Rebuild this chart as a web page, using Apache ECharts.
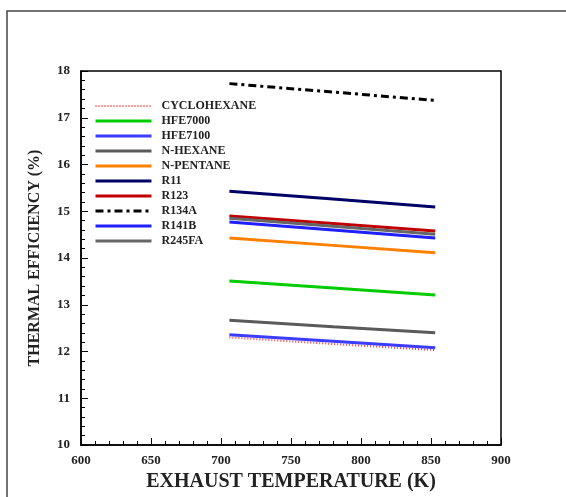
<!DOCTYPE html>
<html>
<head>
<meta charset="utf-8">
<script src="https://cdn.jsdelivr.net/npm/echarts@6/dist/echarts.min.js"></script>
<style>
  html, body { margin: 0; padding: 0; background: #fff; }
  #chart { width: 566px; height: 497px; }
</style>
</head>
<body>
<div id="chart"></div>
<script>
// exhaust temperature (K) sample points
var tempK = [706, 780, 853];

// thermal efficiency (%) per working fluid
var cyclohexane = [12.30, 12.16, 12.03];
var hfe7000 = [13.51, 13.36, 13.21];
var hfe7100 = [12.36, 12.22, 12.08];
var nHexane = [12.67, 12.53, 12.40];
var nPentane = [14.43, 14.27, 14.11];
var r11 = [15.43, 15.26, 15.09];
var r123 = [14.90, 14.74, 14.58];
var r134a = [17.73, 17.55, 17.37];
var r141b = [14.77, 14.60, 14.43];
var r245fa = [14.85, 14.68, 14.51];

var fluidNames = ['CYCLOHEXANE', 'HFE7000', 'HFE7100', 'N-HEXANE', 'N-PENTANE',
    'R11', 'R123', 'R134A', 'R141B', 'R245FA'];
var fluidData = [cyclohexane, hfe7000, hfe7100, nHexane, nPentane,
    r11, r123, r134a, r141b, r245fa];
var fluidColors = ['#ff3b3b', '#00cc00', '#3c3cff', '#5a5a5a', '#ff8000',
    '#000066', '#c00000', '#000000', '#1f1fff', '#666666'];

var serif = '"Liberation Serif", "DejaVu Serif", serif';

var lineFor = function (i) {
    var line = { color: fluidColors[i], width: 3, type: 'solid' };
    if (fluidNames[i] === 'CYCLOHEXANE') {
        line.width = 2;
        line.type = [1, 2];
    }
    if (fluidNames[i] === 'R134A') {
        line.type = [8, 4, 3, 4];
    }
    return line;
};

var series = [];
var legendData = [];
for (var i = 0; i < fluidNames.length; i++) {
    series.push({
        name: fluidNames[i],
        type: 'line',
        symbol: 'none',
        color: fluidColors[i],
        lineStyle: lineFor(i),
        data: tempK.map(function (t, k) { return [t, fluidData[i][k]]; }),
        z: i === 0 ? 1 : 2
    });
    legendData.push({ name: fluidNames[i], lineStyle: lineFor(i) });
}

var myChart = echarts.init(document.getElementById('chart'));
var option = {
    animation: false,
    backgroundColor: '#fff',
    graphic: [{
        type: 'rect',
        shape: { x: 7, y: 11, width: 700, height: 600 },
        style: { fill: 'none', stroke: '#444', lineWidth: 1.5 },
        silent: true
    }],
    grid: {
        left: 81, right: 65, top: 71, bottom: 46,
        show: true, borderColor: '#000', borderWidth: 1.5
    },
    legend: {
        orient: 'vertical',
        left: 89,
        top: 95,
        itemWidth: 56,
        itemHeight: 12,
        itemGap: 3,
        data: legendData,
        // only the line sample, no symbol dot
        itemStyle: { opacity: 0 },
        textStyle: {
            fontFamily: serif, fontWeight: 'bold', fontSize: 12,
            color: '#222', lineHeight: 12, padding: [0, 0, 0, 5]
        }
    },
    xAxis: {
        type: 'value', min: 600, max: 900, interval: 50,
        name: 'EXHAUST TEMPERATURE (K)',
        nameLocation: 'middle', nameGap: 27,
        nameTextStyle: { fontFamily: serif, fontWeight: 'bold', fontSize: 20, color: '#222' },
        axisLine: { lineStyle: { color: '#000', width: 1.5 } },
        axisTick: { inside: true, length: 7, lineStyle: { color: '#000' } },
        minorTick: { show: true, splitNumber: 5, length: 4, lineStyle: { color: '#000' } },
        splitLine: { show: false },
        axisLabel: { margin: 9, fontFamily: serif, fontWeight: 'bold', fontSize: 13, color: '#222' }
    },
    yAxis: {
        type: 'value', min: 10, max: 18, interval: 1,
        name: 'THERMAL EFFICIENCY (%)',
        nameLocation: 'middle', nameGap: 38, nameRotate: 90,
        nameTextStyle: { fontFamily: serif, fontWeight: 'bold', fontSize: 16, color: '#222' },
        axisLine: { lineStyle: { color: '#000', width: 1.5 } },
        axisTick: { inside: true, length: 7, lineStyle: { color: '#000' } },
        minorTick: { show: true, splitNumber: 5, length: 4, lineStyle: { color: '#000' } },
        splitLine: { show: false },
        axisLabel: { margin: 11, fontFamily: serif, fontWeight: 'bold', fontSize: 13, color: '#222' }
    },
    series: series
};
myChart.setOption(option);
</script>
</body>
</html>
